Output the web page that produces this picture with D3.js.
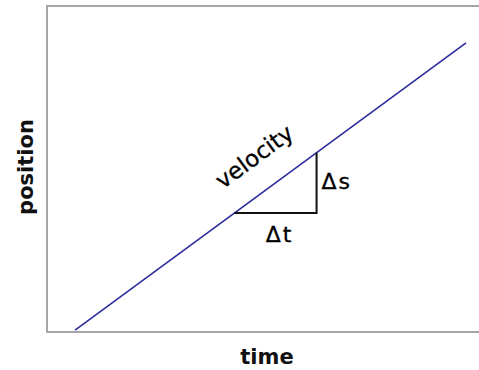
<!DOCTYPE html>
<html>
<head>
<meta charset="utf-8">
<script src="https://cdn.jsdelivr.net/npm/d3@7"></script>
<style>
  body { margin: 0; background: #fff; }
  svg { display: block; }
</style>
</head>
<body>
<svg id="velocity-graph" width="479" height="370"></svg>
<script>
// values (arbitrary units, 0..100 on both axes)
const lineTime = [6.5, 97];
const linePosition = [0.6, 88.7];
const triTime = [43.4, 62.4];
const triPosition = [36.5, 55.0];
const xLabel = 'time';
const yLabel = 'position';
const slopeLabel = 'velocity';
const dtLabel = '\u0394t';
const dsLabel = '\u0394s';

const svg = d3.select('#velocity-graph');

//scales - right edge of the frame runs past the window
const x = d3.scaleLinear().domain([0, 100]).range([47, 479]);
const y = d3.scaleLinear().domain([0, 100]).range([332, 6]);

//frame: left, top and bottom only
const frame = svg.append('g')
    .attr('stroke', '#a6a6a6')
    .attr('stroke-width', 2);
frame.append('line')
    .attr('x1', x(0)).attr('x2', x(0))
    .attr('y1', y(100) - 1).attr('y2', y(0) + 1);
frame.append('line')
    .attr('x1', x(0)).attr('x2', x(100) + 5)
    .attr('y1', y(100)).attr('y2', y(100));
frame.append('line')
    .attr('x1', x(0)).attr('x2', x(100) + 5)
    .attr('y1', y(0)).attr('y2', y(0));

//the velocity line
const pts = d3.zip(lineTime, linePosition);
svg.append('path')
    .datum(pts)
    .attr('d', d3.line().x(d => x(d[0])).y(d => y(d[1])))
    .attr('fill', 'none')
    .attr('stroke', '#2b2b9e')
    .attr('stroke-width', 1.6);

//delta triangle (horizontal then vertical leg)
const tri = [[triTime[0], triPosition[0]], [triTime[1], triPosition[0]], [triTime[1], triPosition[1]]];
svg.append('path')
    .datum(tri)
    .attr('d', d3.line().x(d => x(d[0])).y(d => y(d[1])))
    .attr('fill', 'none')
    .attr('stroke', '#111')
    .attr('stroke-width', 2);

//angle of the line on screen
const angle = Math.atan2(y(linePosition[1]) - y(linePosition[0]), x(lineTime[1]) - x(lineTime[0])) * 180 / Math.PI;

svg.append('text')
    .attr('transform', 'translate(' + 259 + ',' + 163 + ') rotate(' + angle + ')')
    .attr('text-anchor', 'middle')
    .attr('font-family', 'DejaVu Sans')
    .attr('font-size', 23)
    .attr('fill', '#000')
    .attr('stroke', '#000')
    .attr('stroke-width', 0.3)
    .text(slopeLabel);

const deltaText = (tx, ty, anchor, label) => svg.append('text')
    .attr('x', tx)
    .attr('y', ty)
    .attr('text-anchor', anchor)
    .attr('font-family', 'DejaVu Sans')
    .attr('font-size', 22)
    .attr('letter-spacing', 2)
    .attr('fill', '#000')
    .attr('stroke', '#000')
    .attr('stroke-width', 0.3)
    .text(label);

deltaText(x(triTime[1]) + 5, 189, 'start', dsLabel);
deltaText((x(triTime[0]) + x(triTime[1])) / 2 + 4, 242, 'middle', dtLabel);

//axis titles
svg.append('text')
    .attr('x', 267)
    .attr('y', 364)
    .attr('text-anchor', 'middle')
    .attr('font-family', 'DejaVu Sans')
    .attr('font-weight', 'bold')
    .attr('font-size', 21)
    .attr('fill', '#111')
    .text(xLabel);

svg.append('text')
    .attr('transform', 'translate(33,167) rotate(-90)')
    .attr('text-anchor', 'middle')
    .attr('font-family', 'DejaVu Sans')
    .attr('font-weight', 'bold')
    .attr('font-size', 21)
    .attr('fill', '#111')
    .text(yLabel);
</script>
</body>
</html>
